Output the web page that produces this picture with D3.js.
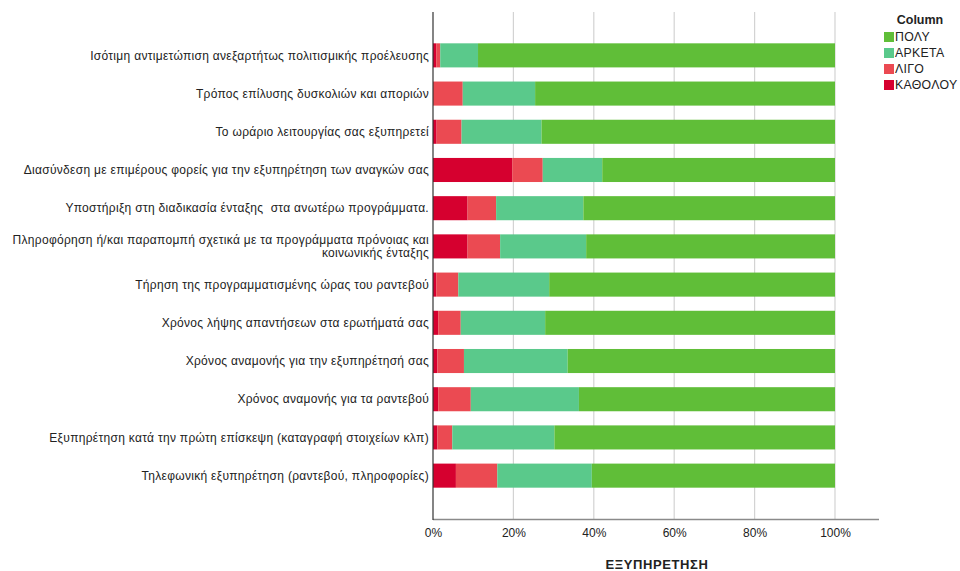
<!DOCTYPE html>
<html><head><meta charset="utf-8">
<script src="https://cdn.jsdelivr.net/npm/d3@7"></script>
<style>body{margin:0;background:#fff}svg{display:block}text{font-family:"Liberation Sans",Arial,sans-serif;white-space:pre}</style>
</head><body><svg id="c" width="960" height="571"></svg>
<script>
const categories = [
  "Ισότιμη αντιμετώπιση ανεξαρτήτως πολιτισμικής προέλευσης",
  "Τρόπος επίλυσης δυσκολιών και αποριών",
  "Το ωράριο λειτουργίας σας εξυπηρετεί",
  "Διασύνδεση με επιμέρους φορείς για την εξυπηρέτηση των αναγκών σας",
  "Υποστήριξη στη διαδικασία ένταξης  στα ανωτέρω προγράμματα.",
  "Πληροφόρηση ή/και παραπομπή σχετικά με τα προγράμματα πρόνοιας και|κοινωνικής ένταξης",
  "Τήρηση της προγραμματισμένης ώρας του ραντεβού",
  "Χρόνος λήψης απαντήσεων στα ερωτήματά σας",
  "Χρόνος αναμονής για την εξυπηρέτησή σας",
  "Χρόνος αναμονής για τα ραντεβού",
  "Εξυπηρέτηση κατά την πρώτη επίσκεψη (καταγραφή στοιχείων κλπ)",
  "Τηλεφωνική εξυπηρέτηση (ραντεβού, πληροφορίες)"
];
const seriesNames = ["ΚΑΘΟΛΟΥ","ΛΙΓΟ","ΑΡΚΕΤΑ","ΠΟΛΥ"];
const katholou = [0.8, 0.0, 0.9, 19.7, 8.6, 8.6, 0.8, 1.3, 1.1, 1.3, 1.1, 5.7];
const ligo     = [1.0, 7.4, 6.2, 7.6, 7.1, 8.1, 5.5, 5.6, 6.6, 8.1, 3.7, 10.3];
const arketa   = [9.4, 18.0, 19.9, 14.8, 21.7, 21.4, 22.6, 21.0, 25.8, 26.9, 25.4, 23.5];
const poly     = [88.8, 74.6, 73.0, 57.9, 62.6, 61.9, 71.1, 72.1, 66.5, 63.7, 69.8, 60.5];
const xTicks = [0,20,40,60,80,100];
const legendOrder = ["ΠΟΛΥ","ΑΡΚΕΤΑ","ΛΙΓΟ","ΚΑΘΟΛΟΥ"];
const colors = {"ΠΟΛΥ":"#60be38","ΑΡΚΕΤΑ":"#5ac98b","ΛΙΓΟ":"#eb4a52","ΚΑΘΟΛΟΥ":"#d6002f"};
const axisTitle = "ΕΞΥΠΗΡΕΤΗΣΗ";
const legendTitle = "Column";

const svg = d3.select("#c");
const x = d3.scaleLinear().domain([0,100]).range([433,835]);
const y = d3.scaleBand().domain(categories).range([12,519]).paddingInner(0.37).paddingOuter(0.82);

// gridlines
svg.append("g").selectAll("line").data(xTicks.slice(1)).join("line")
  .attr("x1",d=>x(d)).attr("x2",d=>x(d)).attr("y1",12).attr("y2",519)
  .attr("stroke","#d3d3d3").attr("stroke-width",1.2);

const rows = categories.map((c,i)=>({c, ΚΑΘΟΛΟΥ:katholou[i], ΛΙΓΟ:ligo[i], ΑΡΚΕΤΑ:arketa[i], ΠΟΛΥ:poly[i]}));
const stack = d3.stack().keys(seriesNames).offset(d3.stackOffsetExpand)(rows);
const xs = d3.scaleLinear().domain([0,1]).range(x.range());
svg.append("g").selectAll("g").data(stack).join("g").attr("fill",d=>colors[d.key])
  .selectAll("rect").data(d=>d).join("rect")
  .attr("x",d=>xs(d[0])).attr("width",d=>xs(d[1])-xs(d[0]))
  .attr("y",d=>y(d.data.c)).attr("height",y.bandwidth());

// bottom axis
const xa = svg.append("g").attr("transform","translate(0,519.5)")
  .call(d3.axisBottom(x).tickValues(xTicks).tickFormat(d=>d+"%").tickSize(0).tickPadding(9));
xa.select(".domain").remove();
svg.append("line").attr("x1",433).attr("x2",879).attr("y1",519.5).attr("y2",519.5).attr("stroke","#8a8a8a").attr("stroke-width",1.3);
xa.selectAll("text").attr("font-size",12).attr("fill","#222").attr("font-family","Liberation Sans, Arial, sans-serif");

// left axis line
svg.append("line").attr("x1",433).attr("x2",433).attr("y1",12).attr("y2",520).attr("stroke","#333").attr("stroke-width",1.2);

// category labels
const lab = svg.append("g").attr("font-size",12).attr("letter-spacing",0.3).attr("fill","#222").attr("text-anchor","end");
categories.forEach(c=>{
  const lines = c.split("|");
  const cy = y(c)+y.bandwidth()/2;
  const t = lab.append("text").attr("x",429).attr("y",cy - (lines.length-1)*6.5);
  lines.forEach((l,k)=>t.append("tspan").attr("x",429).attr("dy",k===0?"0.35em":"1.05em").text(l));
});

// axis title
svg.append("text").attr("x",657).attr("y",569).attr("text-anchor","middle")
  .attr("font-size",13).attr("letter-spacing",0.6).attr("font-weight","bold").attr("fill","#222").text(axisTitle);

// legend
svg.append("text").attr("x",920).attr("y",24).attr("text-anchor","middle")
  .attr("font-size",12.5).attr("font-weight","bold").attr("fill","#222").text(legendTitle);
const lg = svg.append("g").selectAll("g").data(legendOrder).join("g")
  .attr("transform",(d,i)=>`translate(884,${37+i*16})`);
lg.append("rect").attr("x",0).attr("y",-5).attr("width",10).attr("height",10).attr("fill",d=>colors[d]);
lg.append("text").attr("x",11).attr("y",0).attr("dy","0.36em").attr("font-size",12.3).attr("letter-spacing",0.3).attr("fill","#222").text(d=>d);
</script></body></html>
